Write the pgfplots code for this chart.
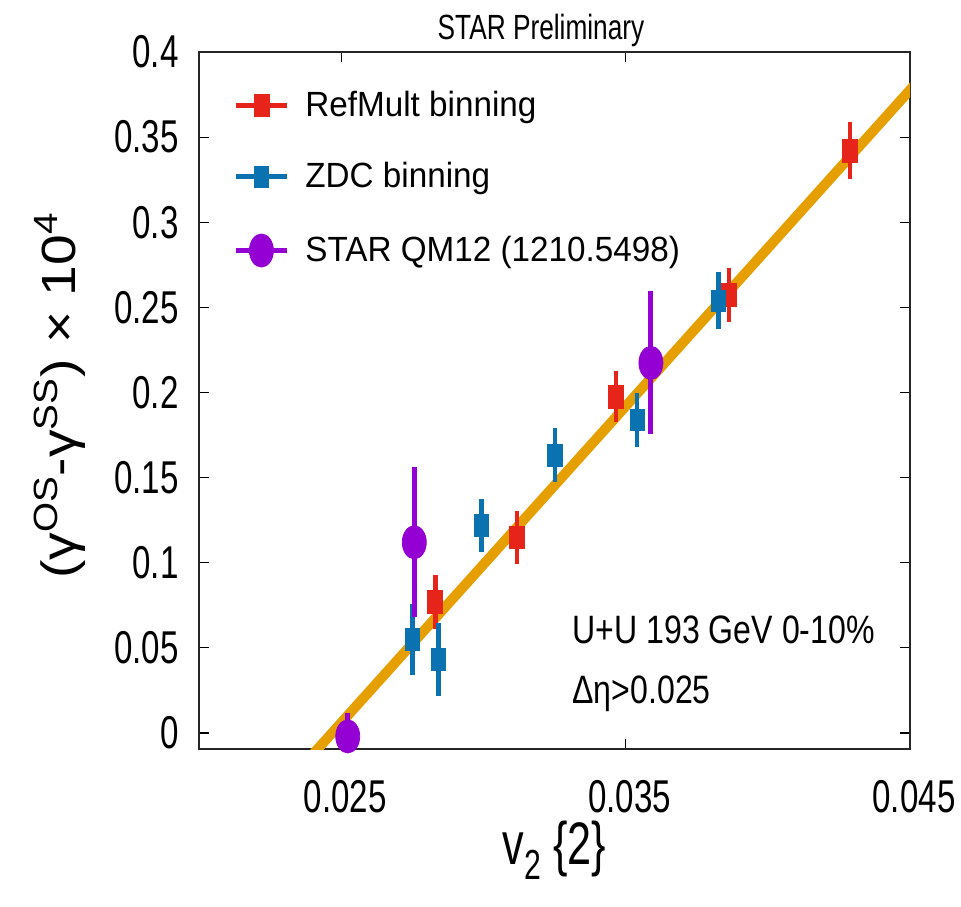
\documentclass[border=0pt]{standalone}
\usepackage{fontspec}
\setmainfont{Liberation Sans}
\newfontfamily\tickfamily[FakeStretch=0.72]{Liberation Sans}
\newfontfamily\annfamily[FakeStretch=0.81]{Liberation Sans}
\newfontfamily\titlefamily[FakeStretch=0.75]{Liberation Sans}
\newfontfamily\legfamily[FakeStretch=0.95]{Liberation Sans}
\newfontfamily\ylabfamily[FakeStretch=1.15]{Liberation Sans}
\usepackage{pgfplots}
\pgfplotsset{compat=1.18}
\newcommand\tickfont{\tickfamily\fontsize{23}{27}\selectfont}
\newcommand\legfont{\legfamily\fontsize{17.5}{20}\selectfont}
\newcommand\annfont{\annfamily\fontsize{19.8}{24}\selectfont}
\newcommand\titlefont{\titlefamily\fontsize{17.5}{20}\selectfont}
\newcommand\ylabfont{\ylabfamily\fontsize{24}{28}\selectfont}
\newcommand\xlabfont{\tickfamily\fontsize{30}{34}\selectfont}
\definecolor{cred}{RGB}{231,36,26}
\definecolor{cblue}{RGB}{11,114,178}
\definecolor{cpurple}{RGB}{148,0,211}
\definecolor{corange}{RGB}{230,159,0}
\pgfplotsset{errleg/.style={legend image code/.code={
  \draw[##1, line width=2.5pt, mark=none] (0pt,0pt) -- (25.5pt,0pt);
  \draw[##1, only marks] plot coordinates {(12.75pt,0pt)};
}}}
\pgfplotstableread{
x y e
0.02831 0.0771 0.016
0.03118 0.1150 0.0155
0.03466 0.1975 0.015
0.03864 0.2572 0.0157
0.04289 0.3419 0.0167
}\redtab
\pgfplotstableread{
x y e
0.02751 0.0550 0.021
0.02842 0.0433 0.0215
0.02993 0.1220 0.0157
0.03251 0.1632 0.0157
0.03541 0.1838 0.016
0.03826 0.2539 0.0166
}\bluetab
\pgfplotstableread{
x y e
0.02523 -0.0020 0.0135
0.02757 0.1120 0.044
0.03589 0.2174 0.042
}\purpletab
\begin{document}
\begin{tikzpicture}
\begin{axis}[name=ax, scale only axis, width=355.5pt, height=348.5pt,
  xmin=0.02, xmax=0.045, ymin=-0.0094, ymax=0.4,
  scaled x ticks=false, scaled y ticks=false,
  xtick={0.025,0.035,0.045}, xticklabels={0.025,0.035,0.045},
  ytick={0,0.05,0.1,0.15,0.2,0.25,0.3,0.35,0.4},
  yticklabels={0,0.05,0.1,0.15,0.2,0.25,0.3,0.35,0.4},
  tick align=inside, major tick length=5pt,
  tick style={black, line width=0.6pt},
  axis line style={line width=0.8pt, black!85},
  xticklabel style={font=\tickfont, anchor=center, yshift=-24pt, xshift=2pt, inner sep=0pt},
  yticklabel style={font=\tickfont, anchor=east, xshift=-10pt, inner sep=0pt},
  title={STAR Preliminary},
  title style={at={(axis description cs:0.481,1)}, anchor=center, yshift=5pt, font=\titlefont},
  xlabel={v\raisebox{-0.25em}{\fontsize{21}{24}\selectfont 2} \{2\}},
  xlabel style={at={(axis description cs:0.5,0)}, anchor=center, yshift=-50.5pt, font=\xlabfont},
  ylabel={(γ\textsuperscript{OS}-γ\textsuperscript{SS}) × 10\textsuperscript{4}},
  ylabel style={at={(axis description cs:-0.1955,0.507)}, anchor=center, font=\ylabfont},
  legend style={at={(axis description cs:0.0394,0.95)}, anchor=north west, draw=none, fill=none,
    font=\legfont, row sep=21.5pt, column sep=8pt, nodes={inner sep=0pt}},
  legend cell align=left,
]
\addplot[color=corange, line width=5pt, forget plot] coordinates {(0.0236,-0.02) (0.0455,0.387)};
\addplot[errleg, only marks, mark=square*, color=cred, mark size=3.75pt, mark options={yscale=1.5},
  error bars/.cd, y dir=both, y explicit, error mark=none, error bar style={line width=2.2pt, cred}]
  table[x=x, y=y, y error=e] {\redtab};
\addlegendentry{RefMult binning}
\addplot[errleg, only marks, mark=square*, color=cblue, mark size=3.6pt, mark options={yscale=1.5},
  error bars/.cd, y dir=both, y explicit, error mark=none, error bar style={line width=2.2pt, cblue}]
  table[x=x, y=y, y error=e] {\bluetab};
\addlegendentry{ZDC binning}
\addplot[errleg, only marks, mark=*, color=cpurple, mark size=6pt, mark options={yscale=1.38},
  error bars/.cd, y dir=both, y explicit, error mark=none, error bar style={line width=2.5pt, cpurple}]
  table[x=x, y=y, y error=e] {\purpletab};
\addlegendentry{STAR QM12 (1210.5498)}
\node[anchor=base west, font=\annfont, inner sep=0pt] at (axis cs:0.03312,0.0528) {U+U 193 GeV 0-10\%};
\node[anchor=base west, font=\annfont, inner sep=0pt] at (axis cs:0.03312,0.0176) {Δη>0.025};
\end{axis}
\pgfresetboundingbox
\useasboundingbox ([shift={(-99.5pt,-78.5pt)}]ax.south west) rectangle ([shift={(25.5pt,26pt)}]ax.north east);
\end{tikzpicture}
\end{document}
